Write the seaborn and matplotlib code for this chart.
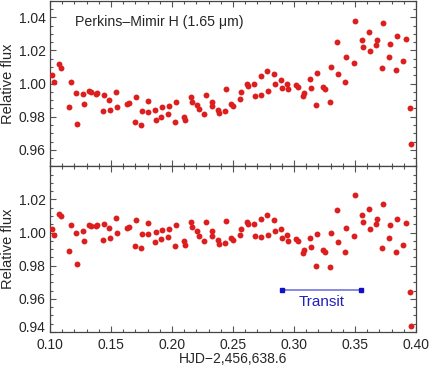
import numpy as np
import pandas as pd
import seaborn as sns
import matplotlib.pyplot as plt
import matplotlib.ticker as ticker
import matplotlib.transforms as mtransforms

# HJD - 2,456,638.6 (same cadence for both panels)
hjd = [0.1019, 0.1030, 0.1077, 0.1087, 0.1158, 0.1170, 0.1213, 0.1221, 0.1268, 0.1276,
       0.1322, 0.1334, 0.1377, 0.1388, 0.1432, 0.1443, 0.1486, 0.1494, 0.1544, 0.1552,
       0.1634, 0.1645, 0.1697, 0.1702, 0.1746, 0.1754, 0.1801, 0.1803, 0.1858, 0.1866,
       0.1912, 0.1918, 0.1970, 0.1973, 0.2025, 0.2033, 0.2096, 0.2104, 0.2158, 0.2167,
       0.2208, 0.2221, 0.2265, 0.2276, 0.2325, 0.2330, 0.2377, 0.2388, 0.2434, 0.2443,
       0.2486, 0.2497, 0.2557, 0.2568, 0.2612, 0.2623, 0.2672, 0.2678, 0.2727, 0.2732,
       0.2781, 0.2787, 0.2836, 0.2842, 0.2891, 0.2899, 0.2945, 0.2953, 0.3014, 0.3030,
       0.3076, 0.3082, 0.3128, 0.3137, 0.3183, 0.3191, 0.3240, 0.3252, 0.3293, 0.3301,
       0.3352, 0.3363, 0.3415, 0.3424, 0.3492, 0.3503, 0.3555, 0.3566, 0.3615, 0.3623,
       0.3670, 0.3678, 0.3724, 0.3732, 0.3779, 0.3789, 0.3834, 0.3842, 0.3891, 0.3918,
       0.3953, 0.3961]

# raw light curve
flux_raw = [1.0050, 1.0010, 1.0118, 1.0094, 0.9856, 1.0010, 0.9942, 0.9754, 0.9936, 0.9876,
            0.9958, 0.9948, 0.9936, 0.9940, 0.9836, 0.9932, 0.9900, 0.9840, 0.9950, 0.9858,
            0.9878, 0.9884, 0.9770, 0.9918, 0.9752, 0.9836, 0.9830, 0.9894, 0.9838, 0.9778,
            0.9798, 0.9856, 0.9816, 0.9866, 0.9768, 0.9888, 0.9798, 0.9782, 0.9916, 0.9888,
            0.9868, 0.9848, 0.9817, 0.9930, 0.9862, 0.9888, 0.9838, 0.9822, 0.9836, 0.9970,
            0.9874, 0.9864, 0.9906, 0.9946, 0.9996, 0.9986, 1.0000, 0.9926, 0.9932, 1.0046,
            1.0078, 0.9958, 1.0060, 0.9998, 1.0022, 0.9972, 1.0000, 0.9966, 0.9994, 0.9982,
            0.9926, 0.9944, 1.0026, 0.9976, 0.9870, 1.0066, 0.9978, 0.9968, 0.9890, 1.0102,
            1.0250, 1.0056, 1.0008, 1.0158, 1.0124, 1.0380, 1.0264, 1.0222, 1.0314, 1.0194,
            1.0230, 1.0264, 1.0096, 1.0364, 1.0162, 1.0240, 1.0084, 1.0288, 1.0134, 1.0270,
            0.9850, 0.9637]

# detrended light curve
flux_det = [1.0020, 0.9986, 1.0114, 1.0098, 0.9888, 1.0046, 0.9996, 0.9808, 1.0010, 0.9952,
            1.0048, 1.0040, 1.0040, 1.0046, 0.9954, 1.0054, 1.0028, 0.9968, 1.0088, 0.9998,
            1.0030, 1.0036, 0.9922, 1.0074, 0.9910, 0.9994, 0.9990, 1.0058, 0.9942, 1.0004,
            0.9960, 1.0018, 0.9976, 1.0024, 0.9922, 1.0046, 0.9948, 0.9928, 1.0062, 1.0032,
            1.0008, 0.9982, 0.9948, 1.0062, 0.9982, 1.0010, 0.9958, 0.9934, 0.9936, 1.0072,
            0.9970, 0.9954, 0.9984, 1.0022, 1.0062, 1.0052, 1.0054, 0.9978, 0.9972, 1.0084,
            1.0108, 0.9984, 1.0074, 1.0010, 1.0022, 0.9968, 0.9986, 0.9950, 0.9962, 0.9948,
            0.9878, 0.9896, 0.9966, 0.9916, 0.9796, 0.9992, 0.9894, 0.9880, 0.9790, 1.0000,
            1.0134, 0.9942, 0.9880, 1.0028, 0.9980, 1.0230, 1.0106, 1.0062, 1.0142, 1.0022,
            1.0052, 1.0084, 0.9908, 1.0174, 0.9968, 1.0044, 0.9884, 1.0082, 0.9928, 1.0058,
            0.9642, 0.9435]

transit_x = [0.290, 0.355]
transit_y = [0.9655, 0.9655]

top_ticks = [0.96, 0.98, 1.00, 1.02, 1.04]
bot_ticks = [0.94, 0.96, 0.98, 1.00, 1.02]

sns.set_style("ticks")
plt.rcParams['font.family'] = ['Liberation Sans', 'DejaVu Sans']
plt.rcParams['xtick.direction'] = 'in'
plt.rcParams['ytick.direction'] = 'in'

df = pd.DataFrame({'hjd': hjd, 'raw': flux_raw, 'det': flux_det})

fig, (ax1, ax2) = plt.subplots(2, 1, figsize=(4.29, 3.67), dpi=100, sharex=True)
fig.subplots_adjust(left=50 / 429, right=416 / 429, top=0.998, bottom=1 - 332 / 367, hspace=0)

red = '#dc1e1e'
sns.scatterplot(data=df, x='hjd', y='raw', ax=ax1, color=red, s=18, linewidth=0, zorder=3)
sns.scatterplot(data=df, x='hjd', y='det', ax=ax2, color=red, s=18, linewidth=0, zorder=3)

ax1.set_ylim(0.95, 1.05)
ax2.set_ylim(0.94, 1.04)
ax2.set_xlim(0.10, 0.40)

for ax, yt in [(ax1, top_ticks), (ax2, bot_ticks)]:
    ax.set_yticks(yt)
    ax.set_yticklabels([f'{v:.2f}' for v in yt])
    ax.yaxis.set_minor_locator(ticker.MultipleLocator(0.005))
    ax.xaxis.set_major_locator(ticker.MultipleLocator(0.05))
    ax.xaxis.set_minor_locator(ticker.MultipleLocator(0.01))
    ax.tick_params(which='both', top=True, right=True, color='#555555', labelsize=10)
    ax.tick_params(which='major', length=4.5, width=0.8)
    ax.tick_params(which='minor', length=2.2, width=0.8)
    ax.tick_params(axis='x', pad=4)
    ax.tick_params(axis='y', pad=3)
    for sp in ax.spines.values():
        sp.set_color('#444444')
        sp.set_linewidth(0.9)
    ax.set_ylabel('Relative flux', fontsize=10.5, labelpad=3)
    ax.set_xlabel(None)

ax2.xaxis.set_major_formatter(ticker.FormatStrFormatter('%.2f'))
ax2.set_xlabel('HJD\u22122,456,638.6', fontsize=10, labelpad=0)
ax1.tick_params(labelbottom=False)

# lift the lowest label a little, as in the original
fig.canvas.draw()
lbl = ax2.get_yticklabels()[0]
lbl.set_transform(lbl.get_transform() + mtransforms.ScaledTranslation(0, 4 / 72, fig.dpi_scale_trans))

ax1.text(0.068, 0.87, 'Perkins\u2013Mimir H (1.65 \u03bcm)', transform=ax1.transAxes,
         fontsize=10.2, va='center', ha='left')

ax2.plot(transit_x, transit_y, color='#7f7fdd', linewidth=1.3, zorder=2)
ax2.plot(transit_x, transit_y, linestyle='none', marker='s', markersize=3,
         color='#1010c8', zorder=3)
ax2.text(np.mean(transit_x), 0.958, 'Transit', color='#2020c0', fontsize=11,
         ha='center', va='center')

plt.savefig('out.png', dpi=100)
